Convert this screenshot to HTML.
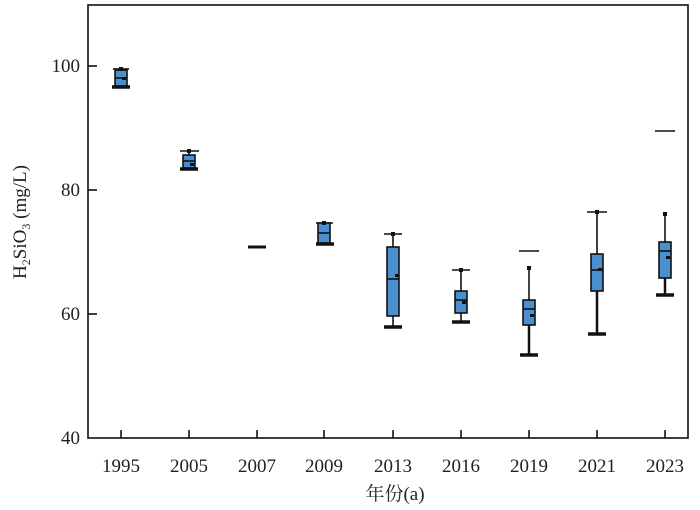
<!DOCTYPE html><html><head><meta charset="utf-8"><style>body{margin:0;background:#fff}svg{display:block}text{font-family:"Liberation Serif","Noto Serif CJK SC",serif;fill:#222}</style></head><body>
<svg width="700" height="510" viewBox="0 0 700 510">
<rect x="88" y="5" width="600" height="433" fill="none" stroke="#111" stroke-width="1.6"/>
<g stroke="#111" stroke-width="1.6">
<line x1="88" y1="66" x2="97" y2="66"/><line x1="88" y1="190" x2="97" y2="190"/><line x1="88" y1="314" x2="97" y2="314"/>
<line x1="121" y1="438" x2="121" y2="430"/><line x1="189" y1="438" x2="189" y2="430"/><line x1="257" y1="438" x2="257" y2="430"/><line x1="324" y1="438" x2="324" y2="430"/><line x1="393" y1="438" x2="393" y2="430"/><line x1="461" y1="438" x2="461" y2="430"/><line x1="529" y1="438" x2="529" y2="430"/><line x1="597" y1="438" x2="597" y2="430"/><line x1="665" y1="438" x2="665" y2="430"/>
</g>
<g font-size="19" text-anchor="end"><text x="80" y="72">100</text><text x="80" y="196">80</text><text x="80" y="320">60</text><text x="80" y="444">40</text></g>
<g font-size="19" text-anchor="middle"><text x="121" y="472">1995</text><text x="189" y="472">2005</text><text x="257" y="472">2007</text><text x="324" y="472">2009</text><text x="393" y="472">2013</text><text x="461" y="472">2016</text><text x="529" y="472">2019</text><text x="597" y="472">2021</text><text x="665" y="472">2023</text>
<text x="395" y="500">年份(a)</text></g>
<text transform="translate(26,222) rotate(-90)" font-size="19" text-anchor="middle">H<tspan font-size="12" dy="4">2</tspan><tspan dy="-4">SiO</tspan><tspan font-size="12" dy="4">3</tspan><tspan dy="-4"> (mg/L)</tspan></text>
<g stroke="#111" stroke-width="1.6" fill="#4a8fcf">
<line x1="113" y1="69" x2="129" y2="69"/><rect x="115" y="70" width="12" height="16"/><line x1="115" y1="78" x2="127" y2="78"/><line x1="112" y1="87" x2="130" y2="87" stroke-width="3.5"/>
<line x1="180" y1="151" x2="199" y2="151"/><line x1="189" y1="151" x2="189" y2="155"/><rect x="183" y="155" width="12" height="13"/><line x1="183" y1="161" x2="195" y2="161"/><line x1="180" y1="169" x2="198" y2="169" stroke-width="3.5"/>
<line x1="248" y1="247" x2="266" y2="247" stroke-width="3"/>
<line x1="316" y1="223" x2="333" y2="223"/><rect x="318" y="223" width="12" height="20"/><line x1="318" y1="233" x2="330" y2="233"/><line x1="316" y1="244" x2="334" y2="244" stroke-width="3.5"/>
<line x1="384" y1="234" x2="402" y2="234"/><line x1="393" y1="234" x2="393" y2="247"/><rect x="387" y="247" width="12" height="69"/><line x1="387" y1="279" x2="399" y2="279"/><line x1="393" y1="316" x2="393" y2="327"/><line x1="384" y1="327" x2="402" y2="327" stroke-width="3.5"/>
<line x1="452" y1="270" x2="470" y2="270"/><line x1="461" y1="270" x2="461" y2="291"/><rect x="455" y="291" width="12" height="22"/><line x1="455" y1="300" x2="467" y2="300"/><line x1="461" y1="313" x2="461" y2="322"/><line x1="452" y1="322" x2="470" y2="322" stroke-width="3.5"/>
<line x1="519" y1="251" x2="539" y2="251"/><line x1="529" y1="268" x2="529" y2="300"/><rect x="523" y="300" width="12" height="25"/><line x1="523" y1="309" x2="535" y2="309"/><line x1="529" y1="325" x2="529" y2="355" stroke-width="2.5"/><line x1="520" y1="355" x2="538" y2="355" stroke-width="3.5"/>
<line x1="587" y1="212" x2="607" y2="212"/><line x1="597" y1="212" x2="597" y2="254"/><rect x="591" y="254" width="12" height="37"/><line x1="591" y1="270" x2="603" y2="270"/><line x1="597" y1="291" x2="597" y2="334" stroke-width="2.5"/><line x1="588" y1="334" x2="606" y2="334" stroke-width="3.5"/>
<line x1="655" y1="131" x2="675" y2="131"/><line x1="665" y1="214" x2="665" y2="242"/><rect x="659" y="242" width="12" height="36"/><line x1="659" y1="251" x2="671" y2="251"/><line x1="665" y1="278" x2="665" y2="295" stroke-width="2.5"/><line x1="656" y1="295" x2="674" y2="295" stroke-width="3.5"/>
</g>
<g fill="#111">
<rect x="119" y="67" width="4" height="4"/><rect x="122" y="77" width="4" height="3"/><rect x="187" y="149" width="4" height="4"/><rect x="190" y="163" width="4" height="3"/>
<rect x="322" y="221" width="4" height="4"/><rect x="391" y="232" width="4" height="4"/><rect x="395" y="274" width="4" height="3"/><rect x="459" y="268" width="4" height="4"/><rect x="462" y="301" width="4" height="3"/>
<rect x="527" y="266" width="4" height="4"/><rect x="530" y="314" width="4" height="3"/><rect x="595" y="210" width="4" height="4"/><rect x="598" y="268" width="4" height="3"/><rect x="663" y="212" width="4" height="4"/><rect x="666" y="256" width="4" height="3"/>
</g>
</svg></body></html>
